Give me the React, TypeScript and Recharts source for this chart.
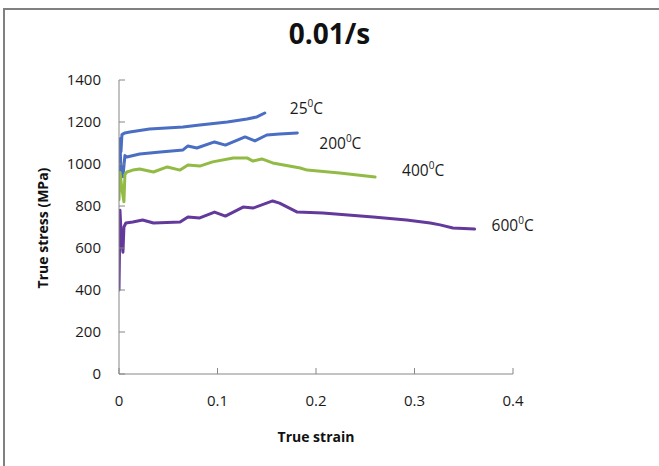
import React from 'react';
import { LineChart, Line, XAxis, YAxis } from 'recharts';

// strain / stress pairs
const strain25 = [0, 0.001, 0.002, 0.003, 0.006, 0.011, 0.031, 0.065, 0.082, 0.11, 0.13, 0.14, 0.148];
const stress25 = [1000, 1120, 1060, 1140, 1148, 1152, 1167, 1176, 1186, 1200, 1214, 1224, 1243];

const strain200 = [0, 0.001, 0.002, 0.004, 0.006, 0.008, 0.021, 0.042, 0.065, 0.07, 0.079, 0.097, 0.108, 0.128, 0.138, 0.15, 0.163, 0.181];
const stress200 = [950, 1090, 980, 940, 1040, 1033, 1048, 1057, 1067, 1086, 1076, 1105, 1090, 1129, 1110, 1138, 1143, 1148];

const strain400 = [0, 0.001, 0.003, 0.005, 0.006, 0.008, 0.014, 0.021, 0.035, 0.049, 0.062, 0.07, 0.082, 0.095, 0.116, 0.13, 0.136, 0.145, 0.156, 0.184, 0.191, 0.224, 0.26];
const stress400 = [830, 960, 880, 820, 950, 962, 971, 976, 962, 986, 971, 995, 990, 1010, 1029, 1029, 1014, 1024, 1005, 981, 971, 957, 938];

const strain600 = [0, 0.001, 0.002, 0.004, 0.005, 0.007, 0.014, 0.024, 0.035, 0.062, 0.07, 0.082, 0.097, 0.108, 0.126, 0.136, 0.156, 0.163, 0.181, 0.207, 0.258, 0.292, 0.316, 0.326, 0.339, 0.361];
const stress600 = [400, 780, 680, 580, 700, 719, 724, 733, 719, 724, 748, 743, 771, 752, 795, 790, 824, 814, 771, 767, 748, 733, 719, 710, 695, 690];

const xTicks = [0, 0.1, 0.2, 0.3, 0.4];
const yTicks = [0, 200, 400, 600, 800, 1000, 1200, 1400];

const toPoints = (xs: number[], ys: number[]) => xs.map((x, i) => ({ x, y: ys[i] }));

const FONT = "'Open Sans', sans-serif";

const endLabel = (temp: string, last: number, dx: number, dy: number) => (props: any) => {
  if (props.index !== last) return <g />;
  return (
    <text x={props.x + dx} y={props.y + dy} dominantBaseline="central" fontFamily={FONT} fontSize={15.5} fill="#1a1a1a">
      {temp}
      <tspan dy={-5} fontSize={10}>0</tspan>
      <tspan dy={5}>C</tspan>
    </text>
  );
};

const series = [
  { name: '25', xs: strain25, ys: stress25, color: '#4a6ec2', dx: 25, dy: -5 },
  { name: '200', xs: strain200, ys: stress200, color: '#4a6ec2', dx: 22, dy: 10 },
  { name: '400', xs: strain400, ys: stress400, color: '#92bb45', dx: 27, dy: -7 },
  { name: '600', xs: strain600, ys: stress600, color: '#63399b', dx: 17, dy: -4 },
];

export default function App() {
  const tickStyle = { fill: '#1a1a1a', fontSize: 15, fontFamily: FONT };
  return (
    <div style={{ position: 'absolute', left: 0, top: 0, width: 659, height: 466, overflow: 'hidden', background: '#fff', fontFamily: FONT }}>
      <div style={{ position: 'absolute', left: 3, top: 8, width: 720, height: 520, border: '2px solid #808080' }} />
      <div style={{ position: 'absolute', left: 0, width: 659, top: 14, textAlign: 'center', fontSize: 28, fontWeight: 700, color: '#111' }}>
        0.01/s
      </div>
      <div style={{ position: 'absolute', left: 0, width: 632, top: 427, textAlign: 'center', fontSize: 14, fontWeight: 700, color: '#111' }}>
        True strain
      </div>
      <div
        style={{
          position: 'absolute', left: 43, top: 228, width: 200, marginLeft: -100, marginTop: -10, height: 20,
          textAlign: 'center', fontSize: 14, fontWeight: 700, color: '#111', transform: 'rotate(-90deg)', lineHeight: '20px',
        }}
      >
        True stress (MPa)
      </div>
      <div style={{ position: 'absolute', left: 0, top: 0 }}>
        <LineChart width={659} height={466} margin={{ top: 80, right: 146, bottom: 62, left: 59 }}>
          <XAxis
            type="number"
            dataKey="x"
            domain={[0, 0.4]}
            ticks={xTicks}
            allowDataOverflow
            height={30}
            stroke="#868686"
            tickSize={-6}
            tickMargin={27}
            tick={tickStyle}
          />
          <YAxis
            type="number"
            dataKey="y"
            domain={[0, 1400]}
            ticks={yTicks}
            width={60}
            stroke="#868686"
            tickSize={-6}
            tickMargin={24}
            tick={tickStyle}
          />
          {series.map(s => (
            <Line
              key={s.name}
              data={toPoints(s.xs, s.ys)}
              dataKey="y"
              type="linear"
              stroke={s.color}
              strokeWidth={3}
              strokeLinejoin="round"
              strokeLinecap="round"
              dot={false}
              isAnimationActive={false}
              label={endLabel(s.name, s.xs.length - 1, s.dx, s.dy)}
            />
          ))}
        </LineChart>
      </div>
    </div>
  );
}
